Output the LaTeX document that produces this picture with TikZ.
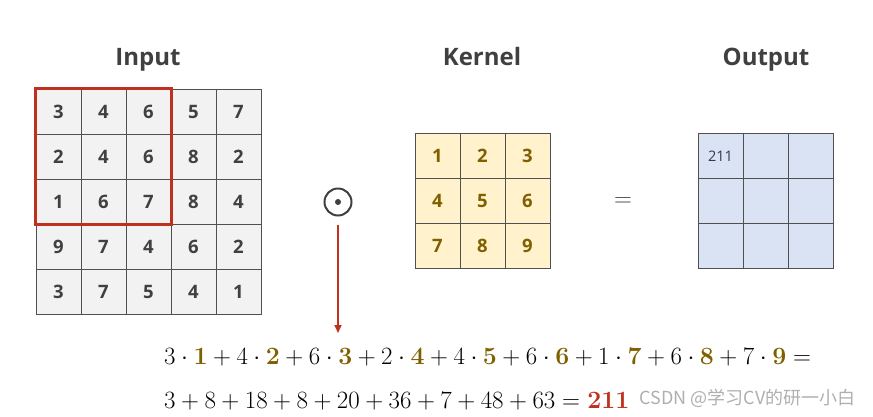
\documentclass[tikz,border=0pt]{standalone}
\usepackage[no-math]{fontspec}
\setmainfont{Open Sans}
\newfontfamily\cjkfont{Noto Sans CJK SC}
\definecolor{gridline}{HTML}{505050}
\definecolor{titlegray}{HTML}{404040}
\definecolor{inputfill}{HTML}{F2F2F2}
\definecolor{kernelfill}{HTML}{FFF2CC}
\definecolor{kerneltext}{HTML}{7F6000}
\definecolor{outputfill}{HTML}{DAE3F3}
\definecolor{outputtext}{HTML}{2F3B55}
\definecolor{windowred}{HTML}{C0301F}
\usetikzlibrary{arrows.meta,positioning}
\newcommand{\kv}[1]{{\color{kerneltext}\mathbf{#1}}}

\begin{document}
\begin{tikzpicture}[x=1pt,y=-1pt,
  gridcell/.style={draw=gridline,line width=1pt,minimum size=45pt,inner sep=0pt,
    font=\fontsize{18.5}{21}\selectfont\bfseries},
  incell/.style={gridcell,fill=inputfill,text=titlegray},
  kcell/.style={gridcell,fill=kernelfill,text=kerneltext},
  outcell/.style={gridcell,fill=outputfill,text=outputtext,font=\fontsize{14}{16}\selectfont},
  title/.style={anchor=base,text=titlegray,font=\fontsize{24}{28}\selectfont\bfseries},
  eqline/.style={anchor=base west,inner sep=0pt,font=\fontsize{26}{30}\selectfont}
]
  \useasboundingbox (0,0) rectangle (873,416);

  % titles
  \node[title] (tin) at (148,65) {Input};
  \node[title] (tker) at (482,65) {Kernel};
  \node[title] (tout) at (766,65) {Output};

  % input 5x5
  \foreach \row [count=\r from 0] in {{3,4,6,5,7},{2,4,6,8,2},{1,6,7,8,4},{9,7,4,6,2},{3,7,5,4,1}} {
    \foreach \v [count=\c from 0] in \row {
      \node[incell] (in-\r-\c) at ({58.5+45*\c},{111.5+45*\r}) {\v};
    }
  }
  \draw[windowred,line width=2.6pt] (in-0-0.north west) rectangle (in-2-2.south east);

  % kernel 3x3
  \foreach \k in {0,...,8} {
    \pgfmathtruncatemacro{\r}{\k/3}
    \pgfmathtruncatemacro{\c}{mod(\k,3)}
    \pgfmathtruncatemacro{\v}{\k+1}
    \node[kcell] (ker-\r-\c) at ({437.5+45*\c},{155.5+45*\r}) {\v};
  }

  % output 3x3
  \foreach \r in {0,1,2} {
    \foreach \c in {0,1,2} {
      \node[outcell] (out-\r-\c) at ({720.5+45*\c},{155.5+45*\r}) {};
    }
  }
  \node[outputtext,font=\fontsize{14.5}{16}\selectfont] (res) at ([yshift=-1pt]out-0-0) {211};

  % operators
  \node[circle,draw=titlegray,line width=2pt,minimum size=27pt,inner sep=0pt] (odot) at (338,202) {};
  \fill[titlegray] (odot.center) circle (3);
  \node[text=titlegray,font=\fontsize{31}{33}\selectfont] (eq) at (623,202) {$=$};

  \coordinate (arrowend) at (338,333);
  \draw[windowred,line width=1.6pt,-{Triangle[length=8pt,width=7pt]}] ([yshift=-8pt]odot.south) -- (arrowend);

  % equations
  \node[eqline] (sum1) at (164,364) {$3\cdot\kv{1}+4\cdot\kv{2}+6\cdot\kv{3}+2\cdot\kv{4}+4\cdot\kv{5}+6\cdot\kv{6}+1\cdot\kv{7}+6\cdot\kv{8}+7\cdot\kv{9}=$};
  \node[eqline] (sum2) at (164,408) {$3+8+18+8+20+36+7+48+63={\color{windowred}\mathbf{211}}$};

  \node[anchor=west,text=gray!70,opacity=0.9,font=\fontsize{18}{20}\selectfont\cjkfont] (mark) at (636,398) {CSDN @学习CV的研一小白};
\end{tikzpicture}
\end{document}
